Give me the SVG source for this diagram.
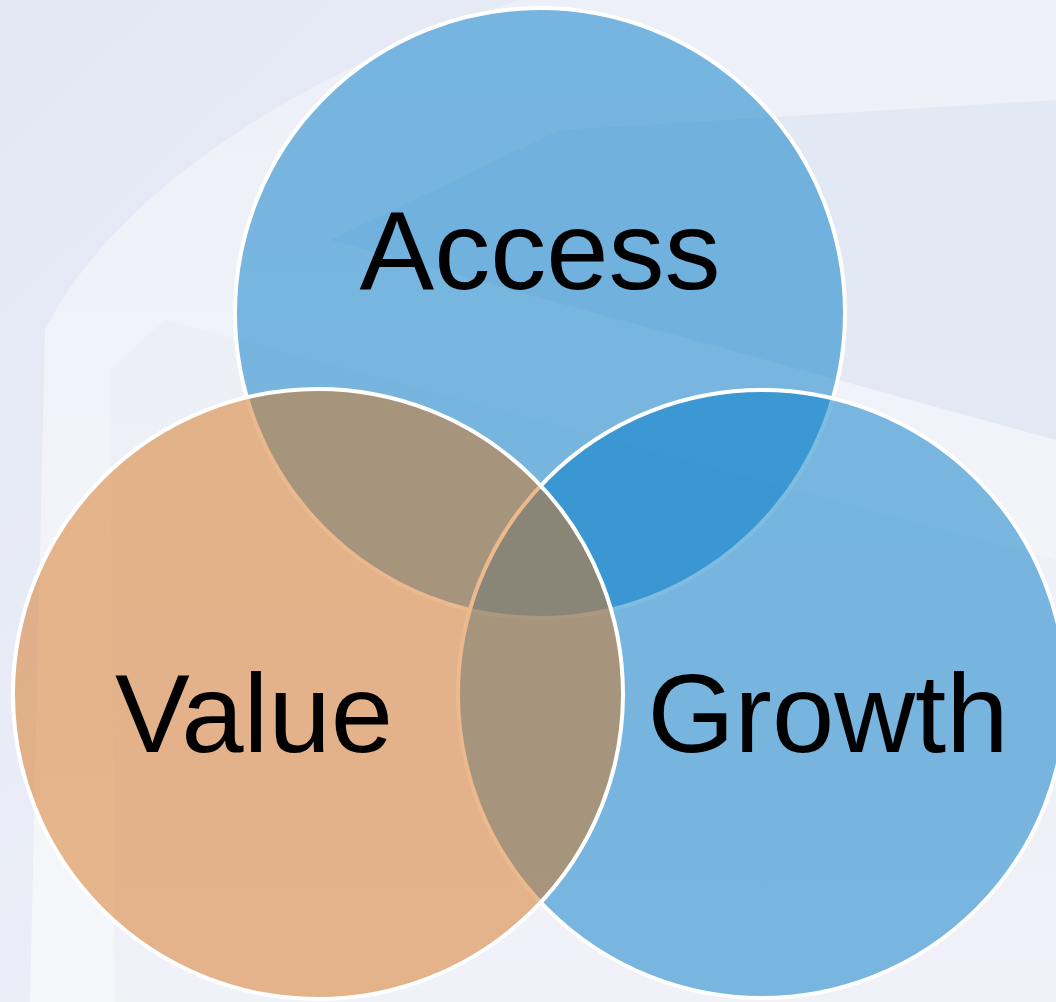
<svg xmlns="http://www.w3.org/2000/svg" width="1056" height="1002" viewBox="0 0 1056 1002">
<defs>
<linearGradient id="bg" x1="0" y1="0" x2="1" y2="1">
<stop offset="0" stop-color="#e2e7f4"/>
<stop offset="0.5" stop-color="#ebeef7"/>
<stop offset="1" stop-color="#f3f5fa"/>
</linearGradient>
<linearGradient id="band" x1="0" y1="0" x2="0" y2="1">
<stop offset="0" stop-color="#edf0f8"/>
<stop offset="1" stop-color="#f6f7fb"/>
</linearGradient>
</defs>
<style>
.c{stroke:#ffffff;stroke-width:4;fill-opacity:0.5}
.blue{fill:#0079c6}
.orange{fill:#d8731c}
.t{font-family:"Liberation Sans",Arial,sans-serif;font-size:112px;fill:#000000;text-anchor:middle}
</style>
<rect width="1056" height="1002" fill="url(#bg)"/>
<path d="M520,0 C330,60 120,180 45,330 L30,1002 L1056,1002 L1056,0 Z" fill="url(#band)"/>
<path d="M560,130 L1056,100 L1056,440 L330,240 Z" fill="#dde4f2" opacity="0.7"/>
<path d="M165,320 L1056,560 L1056,1002 L115,1002 L110,370 Z" fill="#e8ecf6" opacity="0.4"/>
<g id="access"><circle class="c blue" cx="540" cy="313" r="305"/></g>
<g id="growth"><circle class="c blue" cx="762" cy="694" r="304"/></g>
<g id="value"><circle class="c orange" cx="318" cy="694" r="305"/></g>
<g id="connectors"></g>
<g id="labels">
<text class="t" x="540" y="289">Access</text>
<text class="t" x="254" y="752">Value</text>
<text class="t" x="828" y="752">Growth</text>
</g>
</svg>
